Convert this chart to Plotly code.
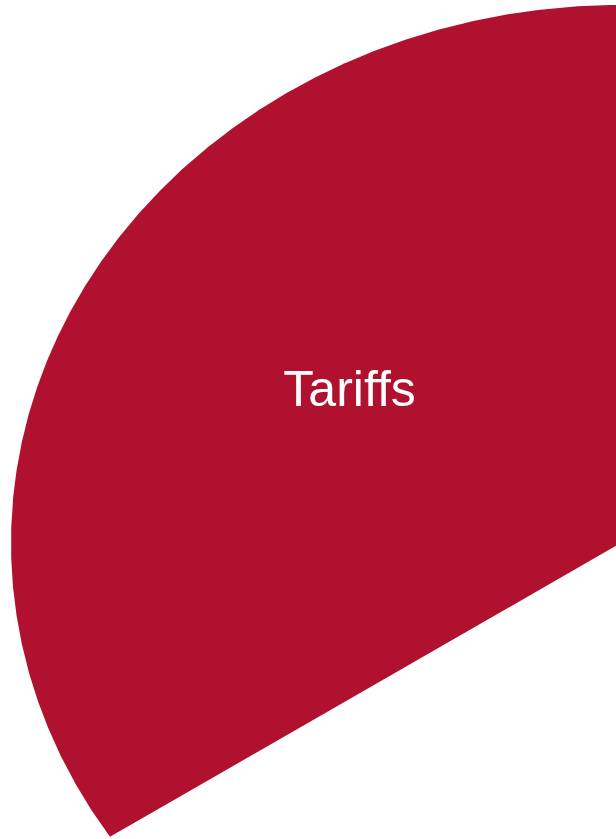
import numpy as np
import plotly.graph_objects as go

# Data
labels = ["Tariffs", "Other"]
values = [36.2, 63.8]
colors = ["#B0112E", "#FFFFFF"]

# Style / geometry (pie drawn as filled wedges on cartesian axes)
start_angle = 213.1      # degrees, where the first slice starts (clockwise sweep)
label_radius = 0.525
n_pts = 600

total = float(sum(values))
fig = go.Figure()

angle = start_angle
for lab, val, col in zip(labels, values, colors):
    sweep = 360.0 * val / total
    th = np.radians(np.linspace(angle, angle - sweep, n_pts))
    xs = np.concatenate([[0.0], np.cos(th), [0.0]])
    ys = np.concatenate([[0.0], np.sin(th), [0.0]])
    if lab == "Tariffs":
        fig.add_trace(go.Scatter(x=xs, y=ys, mode="lines", fill="toself",
                                 fillcolor=col, line=dict(width=0, color=col),
                                 hoverinfo="skip", showlegend=False))
        mid = np.radians(angle - sweep / 2)
        fig.add_trace(go.Scatter(x=[label_radius * np.cos(mid)],
                                 y=[label_radius * np.sin(mid)],
                                 mode="text", text=[lab],
                                 textfont=dict(family="Liberation Sans, Arial, sans-serif",
                                               size=50, color="white"),
                                 hoverinfo="skip", showlegend=False))
    angle -= sweep

# axis scaling: center near right edge, horizontally stretched ellipse
W, H = 616, 839
cx_px, cy_px = 621.0, 543.0
rx_px, ry_px = 610.0, 538.0
xr = [(0 - cx_px) / rx_px, (W - cx_px) / rx_px]
yr = [(cy_px - H) / ry_px, (cy_px - 0) / ry_px]

fig.update_layout(
    width=W, height=H,
    margin=dict(l=0, r=0, t=0, b=0),
    paper_bgcolor="white", plot_bgcolor="white",
    xaxis=dict(range=xr, visible=False, fixedrange=True),
    yaxis=dict(range=yr, visible=False, fixedrange=True),
    showlegend=False,
)

fig.write_html("out.html")
